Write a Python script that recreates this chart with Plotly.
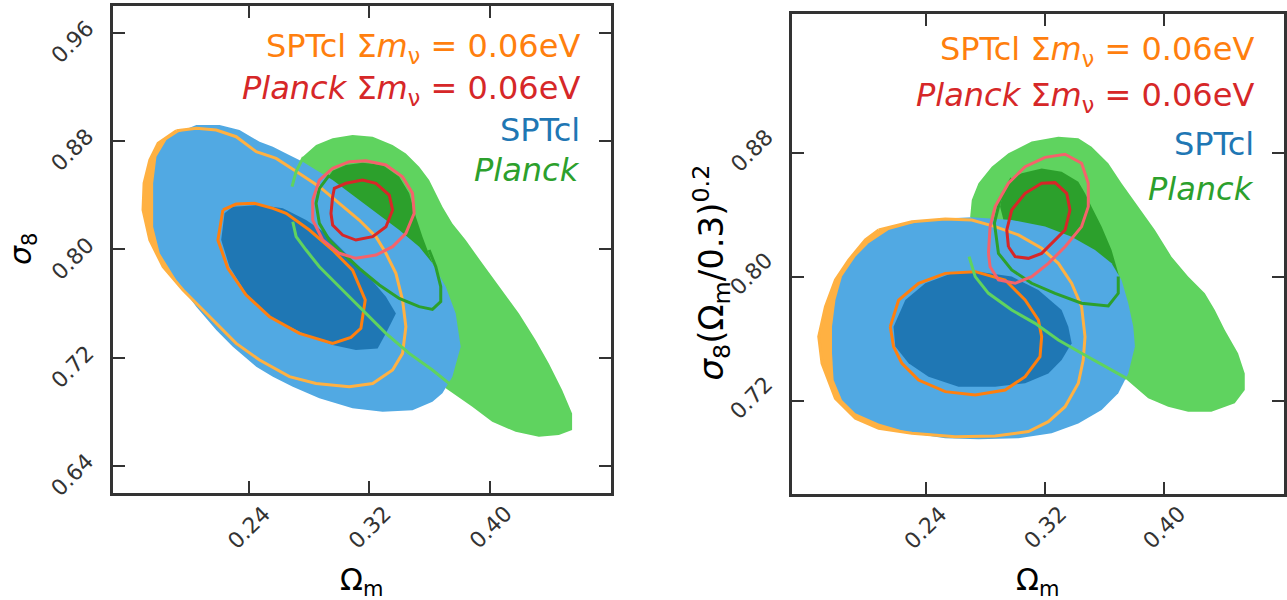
import plotly.graph_objects as go

# ================= DATA =================
# x ticks shared by both panels
om_ticks = [0.24, 0.32, 0.40]
om_tick_text = ["0.24", "0.32", "0.40"]
L_y_ticks = [0.64, 0.72, 0.80, 0.88, 0.96]
L_y_tick_text = ["0.64", "0.72", "0.80", "0.88", "0.96"]
R_y_ticks = [0.72, 0.80, 0.88]
R_y_tick_text = ["0.72", "0.80", "0.88"]

legend_labels = ["SPTcl Σ<i>m</i><sub>ν</sub> = 0.06eV",
                 "<i>Planck</i> Σ<i>m</i><sub>ν</sub> = 0.06eV",
                 "SPTcl",
                 "<i>Planck</i>"]

# ---------- Left panel: sigma_8 vs Omega_m ----------
L_spt95_om = [0.1932,0.2053,0.2207,0.2339,0.2472,0.2560,0.2648,0.2758,0.2846,0.2956,0.3088,0.3221,0.3397,0.3529,0.3617,0.3705,0.3771,0.3804,0.3749,0.3683,0.3617,0.3485,0.3287,0.3088,0.2868,0.2692,0.2560,0.2450,0.2295,0.2185,0.2053,0.1921,0.1811,0.1767,0.1767,0.1789,0.1855]
L_spt95_s8 = [0.8863,0.8917,0.8917,0.8880,0.8794,0.8757,0.8708,0.8647,0.8585,0.8511,0.8400,0.8290,0.8142,0.8019,0.7896,0.7723,0.7526,0.7280,0.7059,0.6936,0.6874,0.6812,0.6800,0.6825,0.6899,0.6985,0.7059,0.7132,0.7280,0.7403,0.7576,0.7773,0.7970,0.8166,0.8487,0.8683,0.8807]
L_spt68_om = [0.2240,0.2218,0.2273,0.2383,0.2538,0.2758,0.2956,0.3110,0.3254,0.3309,0.3375,0.3309,0.3176,0.3044,0.2912,0.2780,0.2626,0.2472,0.2295]
L_spt68_s8 = [0.8265,0.8068,0.7871,0.7674,0.7502,0.7379,0.7293,0.7256,0.7268,0.7379,0.7526,0.7649,0.7822,0.7970,0.8117,0.8216,0.8302,0.8327,0.8314]
L_pl95_om = [0.2758,0.2846,0.2956,0.3088,0.3221,0.3353,0.3441,0.3529,0.3595,0.3683,0.3749,0.3837,0.3947,0.4058,0.4190,0.4300,0.4388,0.4476,0.4542,0.4542,0.4454,0.4322,0.4168,0.4013,0.3881,0.3705,0.3617,0.3397,0.3066,0.2780,0.2714]
L_pl95_s8 = [0.8683,0.8770,0.8819,0.8843,0.8831,0.8770,0.8708,0.8610,0.8511,0.8314,0.8191,0.8068,0.7896,0.7723,0.7526,0.7329,0.7157,0.6960,0.6788,0.6665,0.6628,0.6615,0.6652,0.6726,0.6837,0.6973,0.7132,0.7625,0.8068,0.8413,0.8560]
L_pl68_om = [0.2956,0.3044,0.3154,0.3287,0.3397,0.3463,0.3507,0.3551,0.3617,0.3639,0.3507,0.3287,0.3088,0.2956,0.2912]
L_pl68_s8 = [0.8580,0.8622,0.8639,0.8622,0.8536,0.8413,0.8240,0.8093,0.7896,0.7822,0.7871,0.8093,0.8314,0.8437,0.8511]
L_plnu68_om = [0.2956,0.2967,0.3044,0.3154,0.3243,0.3331,0.3353,0.3309,0.3221,0.3110,0.3022,0.2956,0.2945,0.2956]
L_plnu68_s8 = [0.8388,0.8450,0.8487,0.8511,0.8487,0.8400,0.8290,0.8166,0.8093,0.8068,0.8105,0.8179,0.8265,0.8388]
L_plnu95_om = [0.2824,0.2868,0.2956,0.3066,0.3176,0.3309,0.3419,0.3485,0.3496,0.3441,0.3353,0.3243,0.3110,0.3000,0.2890,0.2824,0.2824]
L_plnu95_s8 = [0.8363,0.8511,0.8597,0.8647,0.8654,0.8622,0.8536,0.8413,0.8265,0.8117,0.8019,0.7957,0.7933,0.7970,0.8068,0.8216,0.8363]
L_plline_om = [0.2934,0.2868,0.2846,0.2868,0.2934,0.3022,0.3132,0.3265,0.3397,0.3529,0.3617,0.3672,0.3672,0.3639,0.3595]
L_plline_s8 = [0.8548,0.8450,0.8339,0.8191,0.8068,0.7970,0.7859,0.7736,0.7637,0.7576,0.7556,0.7613,0.7723,0.7871,0.7994]
L_plfree_om = [0.2687,0.2714,0.2762,None,0.2692,0.2714,0.2780,0.2868,0.3000,0.3154,0.3309,0.3463,0.3617,0.3727]
L_plfree_s8 = [0.8462,0.8573,0.8679,None,0.8203,0.8093,0.7994,0.7871,0.7723,0.7551,0.7379,0.7231,0.7108,0.7009]
L_sptnu68_om = [0.2229,0.2196,0.2262,0.2383,0.2538,0.2736,0.2956,0.3077,0.3143,0.3172,0.3088,0.2956,0.2802,0.2648,0.2560,0.2438,0.2317,0.2229]
L_sptnu68_s8 = [0.8290,0.8068,0.7859,0.7662,0.7502,0.7379,0.7305,0.7349,0.7416,0.7625,0.7846,0.7994,0.8142,0.8265,0.8302,0.8339,0.8334,0.8290]
L_sptnu95_om = [0.1921,0.2053,0.2185,0.2317,0.2450,0.2582,0.2736,0.2868,0.3000,0.3132,0.3243,0.3309,0.3375,0.3419,0.3441,0.3419,0.3353,0.3221,0.3066,0.2846,0.2670,0.2472,0.2317,0.2141,0.1965,0.1833,0.1745,0.1700,0.1707,0.1745,0.1800,0.1921]
L_sptnu95_s8 = [0.8875,0.8893,0.8880,0.8831,0.8720,0.8671,0.8560,0.8462,0.8339,0.8216,0.8093,0.7970,0.7822,0.7625,0.7428,0.7231,0.7108,0.7009,0.6985,0.7009,0.7059,0.7182,0.7305,0.7502,0.7699,0.7871,0.8068,0.8290,0.8487,0.8659,0.8782,0.8875]

# ---------- Right panel: sigma_8 (Omega_m/0.3)^0.2 vs Omega_m ----------
R_spt95_om = [0.2351,0.2530,0.2708,0.2976,0.3200,0.3378,0.3535,0.3646,0.3713,0.3758,0.3792,0.3803,0.3758,0.3691,0.3579,0.3423,0.3244,0.3021,0.2753,0.2530,0.2306,0.2083,0.1927,0.1837,0.1781,0.1770,0.1770,0.1793,0.1837,0.1927,0.2016,0.2150]
R_spt95_s8 = [0.8357,0.8378,0.8385,0.8368,0.8325,0.8260,0.8174,0.8088,0.7980,0.7830,0.7679,0.7550,0.7377,0.7248,0.7141,0.7054,0.6990,0.6958,0.6951,0.6958,0.6990,0.7054,0.7119,0.7205,0.7334,0.7507,0.7679,0.7851,0.8002,0.8131,0.8217,0.8303]
R_spt68_om = [0.2183,0.2262,0.2396,0.2574,0.2753,0.2976,0.3155,0.3311,0.3356,0.3378,0.3311,0.3222,0.3066,0.2865,0.2619,0.2418,0.2284,0.2195]
R_spt68_s8 = [0.7679,0.7851,0.7959,0.8023,0.8034,0.8002,0.7916,0.7786,0.7679,0.7571,0.7463,0.7377,0.7313,0.7291,0.7291,0.7356,0.7442,0.7550]
R_pl95_om = [0.2697,0.2708,0.2753,0.2842,0.2954,0.3110,0.3289,0.3423,0.3512,0.3624,0.3713,0.3825,0.3937,0.4048,0.4160,0.4272,0.4339,0.4406,0.4495,0.4540,0.4540,0.4473,0.4316,0.4160,0.4026,0.3892,0.3736,0.3646,0.3423,0.3088,0.2798]
R_pl95_s8 = [0.8385,0.8497,0.8605,0.8712,0.8798,0.8874,0.8906,0.8895,0.8841,0.8734,0.8605,0.8454,0.8303,0.8131,0.8002,0.7894,0.7786,0.7657,0.7507,0.7377,0.7270,0.7184,0.7130,0.7130,0.7162,0.7216,0.7345,0.7507,0.7830,0.8152,0.8325]
R_pl68_om = [0.2976,0.3043,0.3177,0.3311,0.3423,0.3468,0.3512,0.3579,0.3646,0.3691,0.3702,0.3535,0.3311,0.3088,0.2932,0.2898,0.2921]
R_pl68_s8 = [0.8637,0.8669,0.8701,0.8680,0.8615,0.8540,0.8454,0.8325,0.8174,0.8023,0.7937,0.8066,0.8217,0.8303,0.8325,0.8454,0.8561]
R_plnu68_om = [0.2954,0.2943,0.2976,0.3066,0.3177,0.3267,0.3345,0.3367,0.3334,0.3244,0.3177,0.3088,0.2999,0.2954]
R_plnu68_s8 = [0.8195,0.8303,0.8432,0.8540,0.8605,0.8609,0.8540,0.8432,0.8303,0.8217,0.8152,0.8120,0.8131,0.8195]
R_plnu95_om = [0.2820,0.2831,0.2865,0.2954,0.3066,0.3200,0.3334,0.3445,0.3490,0.3490,0.3445,0.3334,0.3222,0.3110,0.2999,0.2887,0.2831,0.2820]
R_plnu95_s8 = [0.8152,0.8325,0.8454,0.8605,0.8712,0.8772,0.8792,0.8734,0.8605,0.8454,0.8325,0.8195,0.8088,0.8002,0.7959,0.7980,0.8066,0.8152]
R_plline_om = [0.2976,0.2898,0.2860,0.2887,0.2976,0.3110,0.3267,0.3445,0.3624,0.3691,0.3691]
R_plline_s8 = [0.8637,0.8497,0.8347,0.8152,0.8045,0.7959,0.7894,0.7830,0.7812,0.7894,0.8002]
R_plfree_om = [0.2690,0.2731,0.2820,0.2976,0.3133,0.3289,0.3445,0.3602,0.3747]
R_plfree_s8 = [0.8131,0.8002,0.7894,0.7786,0.7700,0.7593,0.7507,0.7420,0.7345]
R_sptnu68_om = [0.2161,0.2217,0.2351,0.2530,0.2731,0.2932,0.3066,0.3155,0.3177,0.3166,0.3066,0.2932,0.2731,0.2530,0.2351,0.2239,0.2183,0.2161]
R_sptnu68_s8 = [0.7679,0.7851,0.7959,0.8023,0.8034,0.7980,0.7851,0.7722,0.7614,0.7485,0.7356,0.7270,0.7237,0.7259,0.7334,0.7442,0.7550,0.7679]
R_sptnu95_om = [0.2083,0.2306,0.2530,0.2708,0.2865,0.3021,0.3177,0.3289,0.3378,0.3445,0.3468,0.3456,0.3423,0.3334,0.3222,0.3088,0.2865,0.2597,0.2306,0.2083,0.1927,0.1793,0.1703,0.1681,0.1726,0.1793,0.1882,0.1994,0.2083]
R_sptnu95_s8 = [0.8303,0.8357,0.8374,0.8368,0.8325,0.8271,0.8185,0.8088,0.7959,0.7808,0.7614,0.7463,0.7313,0.7162,0.7065,0.7001,0.6973,0.6968,0.6990,0.7022,0.7087,0.7216,0.7442,0.7614,0.7808,0.7980,0.8109,0.8239,0.8303]

# ================= STYLE =================
C_BLUE_L, C_BLUE_D = "#51a9e3", "#1f77b4"
C_GREEN_L, C_GREEN_D = "#5fd35f", "#2ca02c"
C_ORANGE_L, C_ORANGE_D = "#ffb142", "#ff7f0e"
C_RED_L, C_RED_D = "#f4636b", "#d62728"
FONT = "DejaVu Sans"
FRAME = "#333333"

fig = go.Figure()


def fill(x, y, color, ax):
    fig.add_trace(go.Scatter(x=x, y=y, mode="lines", fill="toself", fillcolor=color,
                             line=dict(width=0, color=color), hoverinfo="skip",
                             showlegend=False, xaxis=ax[0], yaxis=ax[1]))


def line(x, y, color, ax, w=3):
    fig.add_trace(go.Scatter(x=x, y=y, mode="lines", line=dict(width=w, color=color),
                             hoverinfo="skip", showlegend=False, connectgaps=False,
                             xaxis=ax[0], yaxis=ax[1]))


panels = [
    (("x", "y"), dict(pl95=(L_pl95_om, L_pl95_s8), pl68=(L_pl68_om, L_pl68_s8),
                      nu95=(L_sptnu95_om, L_sptnu95_s8), nu68=(L_sptnu68_om, L_sptnu68_s8),
                      s95=(L_spt95_om, L_spt95_s8), s68=(L_spt68_om, L_spt68_s8),
                      r95=(L_plnu95_om, L_plnu95_s8), r68=(L_plnu68_om, L_plnu68_s8),
                      gl=(L_plline_om, L_plline_s8), gf=(L_plfree_om, L_plfree_s8))),
    (("x2", "y2"), dict(pl95=(R_pl95_om, R_pl95_s8), pl68=(R_pl68_om, R_pl68_s8),
                        nu95=(R_sptnu95_om, R_sptnu95_s8), nu68=(R_sptnu68_om, R_sptnu68_s8),
                        s95=(R_spt95_om, R_spt95_s8), s68=(R_spt68_om, R_spt68_s8),
                        r95=(R_plnu95_om, R_plnu95_s8), r68=(R_plnu68_om, R_plnu68_s8),
                        gl=(R_plline_om, R_plline_s8), gf=(R_plfree_om, R_plfree_s8))),
]

for ax, d in panels:
    for k, v in d.items():
        assert len(v[0]) == len(v[1]), k
    fill(*d["pl95"], C_GREEN_L, ax)
    fill(*d["pl68"], C_GREEN_D, ax)
    fill(*d["nu95"], C_ORANGE_L, ax)
    fill(*d["s95"], C_BLUE_L, ax)
    fill(*d["s68"], C_BLUE_D, ax)
    line(*d["nu95"], C_ORANGE_L, ax)
    line(*d["nu68"], C_ORANGE_D, ax)
    line(*d["gf"], C_GREEN_L, ax)
    line(*d["gl"], C_GREEN_D, ax)
    line(*d["r95"], C_RED_L, ax)
    line(*d["r68"], C_RED_D, ax)

W, H = 1287, 600
L_box = (113, 612, 5.5, 493)      # left, right, top, bottom (px)
R_box = (793, 1285.5, 13.7, 493.7)


def dom(box):
    l, r, t, b = box
    return [l / W, r / W], [(H - b) / H, (H - t) / H]


axis_common = dict(showgrid=False, zeroline=False, showline=True, mirror="allticks",
                   linewidth=3, linecolor=FRAME, ticks="inside", ticklen=12, tickwidth=1.5,
                   tickcolor=FRAME, showticklabels=False)

xd, yd = dom(L_box)
xd2, yd2 = dom(R_box)
fig.update_layout(
    width=W, height=H, margin=dict(l=0, r=0, t=0, b=0),
    paper_bgcolor="white", plot_bgcolor="white", showlegend=False,
    xaxis=dict(domain=xd, range=[0.15, 0.48], anchor="y", tickvals=om_ticks, **axis_common),
    yaxis=dict(domain=yd, range=[0.62, 0.98], anchor="x", tickvals=L_y_ticks, **axis_common),
    xaxis2=dict(domain=xd2, range=[0.15, 0.48], anchor="y2", tickvals=om_ticks, **axis_common),
    yaxis2=dict(domain=yd2, range=[0.66, 0.97], anchor="x2", tickvals=R_y_ticks, **axis_common),
)

ann = []
TICKFONT = dict(family=FONT, size=22, color="#333333")
TITLEFONT = dict(family=FONT, size=30, color="black")
for xa, ya, yticks, ytext, yoff in [("x", "y", L_y_ticks, L_y_tick_text, -9),
                                    ("x2", "y2", R_y_ticks, R_y_tick_text, 3)]:
    for v, t in zip(om_ticks, om_tick_text):
        ann.append(dict(x=v, xref=xa, y=0, yref=ya + " domain", yshift=-34, text=t,
                        textangle=-45, showarrow=False, font=TICKFONT,
                        xanchor="center", yanchor="middle"))
    for v, t in zip(yticks, ytext):
        ann.append(dict(x=0, xref=xa + " domain", xshift=-40, y=v, yref=ya, yshift=yoff,
                        text=t, textangle=-45, showarrow=False, font=TICKFONT,
                        xanchor="center", yanchor="middle"))
    ann.append(dict(x=0.5, xref=xa + " domain", y=0, yref=ya + " domain", yshift=-88,
                    text="Ω<sub>m</sub>", showarrow=False, font=TITLEFONT,
                    xanchor="center", yanchor="middle"))

ann.append(dict(x=0, xref="x domain", xshift=-91, y=0.5, yref="y domain",
                text="<i>σ</i><sub>8</sub>", textangle=-90, showarrow=False, font=TITLEFONT,
                xanchor="center", yanchor="middle"))
ann.append(dict(x=0, xref="x2 domain", xshift=-80, y=0.5, yref="y2 domain", yshift=-19,
                text="<i>σ</i><sub>8</sub>(Ω<sub>m</sub>/0.3)<sup>0.2</sup>", textangle=-90,
                showarrow=False, font=dict(family=FONT, size=34, color="black"),
                xanchor="center", yanchor="middle"))

leg_colors = [C_ORANGE_D, C_RED_D, C_BLUE_D, C_GREEN_D]
for xa, ya, xs, ys in [("x", "y", -29, [-42.5, -84.5, -124.5, -164.5]),
                       ("x2", "y2", -27.5, [-37, -83, -130, -175.5])]:
    for txt, col, dy in zip(legend_labels, leg_colors, ys):
        ann.append(dict(x=1, xref=xa + " domain", xshift=xs, y=1, yref=ya + " domain",
                        yshift=dy, text=txt, showarrow=False,
                        font=dict(family=FONT, size=32, color=col),
                        xanchor="right", yanchor="middle"))

fig.update_layout(annotations=ann)
fig.write_html("out.html", config={"displayModeBar": False},
               post_script="document.body.style.margin='0px';")
